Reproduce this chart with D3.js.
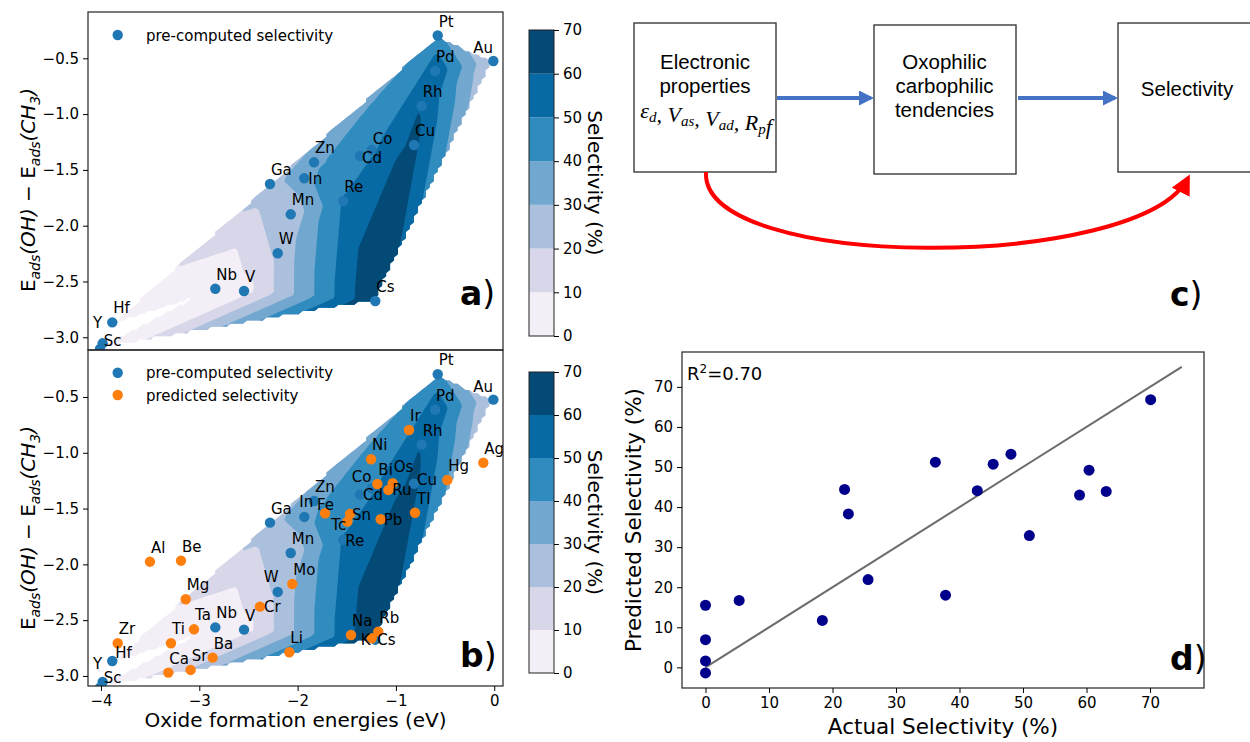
<!DOCTYPE html>
<html>
<head>
<meta charset="utf-8">
<script src="https://cdn.jsdelivr.net/npm/d3@7"></script>
<style>
  body { margin: 0; background: #fff; }
  svg text { font-family: "DejaVu Sans", sans-serif; fill: #000; }
</style>
</head>
<body>
<svg id="fig" width="1250" height="742"></svg>
<script>
// pre-computed metals (blue)
const refMetals = ['Pt', 'Au', 'Pd', 'Rh', 'Cu', 'Co', 'Cd', 'Zn', 'Ga', 'In', 'Re', 'Mn', 'W', 'Nb', 'V', 'Cs', 'Hf', 'Y', 'Sc']
const refOxideE = [-0.575, -0.009, -0.602, -0.738, -0.816, -1.246, -1.365, -1.833, -2.281, -1.932, -1.535, -2.070, -2.202, -2.837, -2.545, -1.210, -3.885, -4.010, -3.983]
const refAdsDiff = [-0.296, -0.524, -0.614, -0.927, -1.277, -1.322, -1.375, -1.432, -1.626, -1.575, -1.779, -1.898, -2.247, -2.565, -2.585, -2.675, -2.866, -3.105, -3.054]
// selectivity at those metals
const refSelectivity = [42.8, 18.4, 58.9, 60.4, 63.1, 48.1, 45.3, 37.8, 25.6, 36.2, 51.0, 22.5, 21.9, 0, 5.3, 70.1, 0, 0, 0]

// predicted metals (orange)
const predMetals = ['Ir', 'Ni', 'Ag', 'Hg', 'Bi', 'Os', 'Ru', 'Tl', 'Fe', 'Sn', 'Tc', 'Pb', 'Al', 'Be', 'Mg', 'Mo', 'Cr', 'Ta', 'Ti', 'Zr', 'Ba', 'Sr', 'Ca', 'Li', 'Na', 'K', 'Rb']
const predOxideE = [-0.867, -1.253, -0.111, -0.477, -1.189, -1.033, -1.077, -0.806, -1.721, -1.467, -1.494, -1.155, -3.502, -3.186, -3.138, -2.054, -2.383, -3.054, -3.288, -3.830, -2.864, -3.088, -3.315, -2.084, -1.457, -1.246, -1.179]
const predAdsDiff = [-0.796, -1.058, -1.089, -1.244, -1.280, -1.273, -1.333, -1.537, -1.542, -1.548, -1.617, -1.596, -1.976, -1.967, -2.313, -2.176, -2.379, -2.582, -2.707, -2.707, -2.836, -2.946, -2.970, -2.788, -2.633, -2.662, -2.603]

// panel d: parity plot
const actualSel = [0, 0, 0, 0, 5.3, 18.4, 21.9, 22.5, 25.6, 36.2, 37.8, 42.8, 45.3, 48.1, 51.0, 58.9, 60.4, 63.1, 70.1]
const predictedSel = [15.5, 6.9, 1.6, -1.4, 16.7, 11.7, 44.4, 38.3, 21.9, 51.2, 18.0, 44.1, 50.7, 53.2, 32.9, 43.0, 49.2, 43.9, 66.8]
const parityLine = [0, 75]
const r2Text = '0.70'

const levels = [0, 10, 20, 30, 40, 50, 60, 70]
const xTicksAB = [-4, -3, -2, -1, 0]
const yTicksAB = [-3.0, -2.5, -2.0, -1.5, -1.0, -0.5]
const ticksD = [0, 10, 20, 30, 40, 50, 60, 70]

const BLUE = '#1f77b4'
const ORANGE = '#ff7f0e'
const bandColor = i => d3.interpolatePuBu((i + 0.5) / (levels.length - 1))

// NOTE: label offsets (px) from the marker, default [1, -9]
const offA = { Au: [-20, -8], Co: [1, -6], Cd: [2, 7], In: [4, 6], Y: [-7, -21], Sc: [1, 3] }
const offB = {
  Au: [-20, -8], Co: [-20, -7], Cd: [3, 5], In: [-5, -10], Y: [-7, -19], Sc: [1, 1],
  Cs: [2, 5], Hf: [3, -3], W: [-14, -10], Re: [2, 6], Cu: [3, 1],
  Os: [1, -11], Ru: [4, 5], Tl: [2, -9], Fe: [-8, -3], Sn: [2, 6], Tc: [-16, 8], Pb: [3, 6], Cr: [4, 5], K: [-11, 7],
}

const svg = d3.select('#fig')
const defs = svg.append('defs')

// NOTE: linear interpolation on the Delaunay mesh of the blue metals, sampled on a grid
const pts = refOxideE.map((v, i) => [v, refAdsDiff[i]])
const tris = d3.Delaunay.from(pts).triangles
const NX = 100
const NY = 100
const [gx0, gx1] = d3.extent(refOxideE)
const [gy0, gy1] = d3.extent(refAdsDiff)
const gdx = (gx1 - gx0) / (NX - 1)
const gdy = (gy1 - gy0) / (NY - 1)
const grid = new Array(NX * NY).fill(-1e6)
for (let j = 0; j < NY; j++) {
  for (let i = 0; i < NX; i++) {
    const px = gx0 + i * gdx
    const py = gy0 + j * gdy
    for (let t = 0; t < tris.length; t += 3) {
      const [ax, ay] = pts[tris[t]]
      const [bx, by] = pts[tris[t + 1]]
      const [cx, cy] = pts[tris[t + 2]]
      const det = (by - cy) * (ax - cx) + (cx - bx) * (ay - cy)
      const l1 = ((by - cy) * (px - cx) + (cx - bx) * (py - cy)) / det
      const l2 = ((cy - ay) * (px - cx) + (ax - cx) * (py - cy)) / det
      const l3 = 1 - l1 - l2
      if (l1 >= -1e-9 && l2 >= -1e-9 && l3 >= -1e-9) {
        grid[i + j * NX] = l1 * refSelectivity[tris[t]] + l2 * refSelectivity[tris[t + 1]] + l3 * refSelectivity[tris[t + 2]]
        break
      }
    }
  }
}
const thresholds = levels.slice(0, -1).map(v => (v === 0 ? 1e-6 : v))
const bands = d3.contours().size([NX, NY]).thresholds(thresholds)(grid)

function drawMapPanel({ id, left, right, top, bottom, yDomain, cbTop, cbBottom, withPred, offsets, tag, showXTicks, yLabelY, legendY }) {
  const x = d3.scaleLinear().domain([-4.132, 0.089]).range([left, right])
  const y = d3.scaleLinear().domain(yDomain).range([bottom, top])
  const g = svg.append('g').attr('class', `panel-${id}`)

  defs.append('clipPath').attr('id', `clip-${id}`)
    .append('rect').attr('x', left).attr('y', top).attr('width', right - left).attr('height', bottom - top)

  const plot = g.append('g').attr('clip-path', `url(#clip-${id})`)

  // NOTE: contour bands
  const proj = d3.geoTransform({
    point(cx, cy) { this.stream.point(x(gx0 + (cx - 0.5) * gdx), y(gy0 + (cy - 0.5) * gdy)) },
  })
  const path = d3.geoPath(proj)
  plot.selectAll('path.band').data(bands).join('path')
    .attr('class', 'band')
    .attr('d', path)
    .attr('fill', (d, i) => bandColor(i))

  // NOTE: markers
  const marks = refMetals.map((m, i) => ({ m, x: refOxideE[i], y: refAdsDiff[i], c: BLUE }))
  if (withPred) predMetals.forEach((m, i) => marks.push({ m, x: predOxideE[i], y: predAdsDiff[i], c: ORANGE }))
  plot.selectAll('circle.pt').data(marks).join('circle')
    .attr('class', 'pt')
    .attr('cx', d => x(d.x)).attr('cy', d => y(d.y)).attr('r', 5.2)
    .attr('fill', d => d.c)

  plot.selectAll('text.lbl').data(marks).join('text')
    .attr('class', 'lbl')
    .attr('x', d => x(d.x) + (offsets[d.m] || [1, -9])[0])
    .attr('y', d => y(d.y) + (offsets[d.m] || [1, -9])[1])
    .attr('font-size', 15)
    .text(d => d.m)

  // NOTE: frame + axes
  g.append('rect').attr('x', left).attr('y', top).attr('width', right - left).attr('height', bottom - top)
    .attr('fill', 'none').attr('stroke', '#222').attr('stroke-width', 1.2)

  const yAxis = g.append('g').attr('transform', `translate(${left},0)`)
    .call(d3.axisLeft(y).tickValues(yTicksAB).tickFormat(d3.format('.1f')).tickSize(5).tickPadding(4))
  yAxis.select('.domain').remove()
  yAxis.selectAll('text').attr('font-size', 15).attr('font-family', 'DejaVu Sans').text(d => d3.format('.1f')(d).replace('-', '−'))

  if (showXTicks) {
    const xAxis = g.append('g').attr('transform', `translate(0,${bottom})`)
      .call(d3.axisBottom(x).tickValues(xTicksAB).tickSize(5).tickPadding(4))
    xAxis.select('.domain').remove()
    xAxis.selectAll('text').attr('font-size', 15).attr('font-family', 'DejaVu Sans').text(d => String(d).replace('-', '−'))
  }

  // NOTE: y label E_ads(OH) − E_ads(CH3)
  const yl = g.append('text').attr('transform', `translate(35,${yLabelY}) rotate(-90)`)
    .attr('text-anchor', 'middle').attr('font-size', 20)
  yl.append('tspan').text('E')
  yl.append('tspan').attr('dy', 5).attr('font-size', 14).attr('font-style', 'italic').text('ads')
  yl.append('tspan').attr('dy', -5).attr('font-style', 'italic').text('(OH)')
  yl.append('tspan').text(' − E')
  yl.append('tspan').attr('dy', 5).attr('font-size', 14).attr('font-style', 'italic').text('ads')
  yl.append('tspan').attr('dy', -5).attr('font-style', 'italic').text('(CH')
  yl.append('tspan').attr('dy', 5).attr('font-size', 14).attr('font-style', 'italic').text('3')
  yl.append('tspan').attr('dy', -5).attr('font-style', 'italic').text(')')

  // NOTE: legend
  const leg = [{ c: BLUE, t: 'pre-computed selectivity' }]
  if (withPred) leg.push({ c: ORANGE, t: 'predicted selectivity' })
  leg.forEach((d, i) => {
    g.append('circle').attr('cx', 117.7).attr('cy', legendY + i * 22.3).attr('r', 5.2).attr('fill', d.c)
    g.append('text').attr('x', 146).attr('y', legendY + i * 22.3 + 5.5).attr('font-size', 15).text(d.t)
  })

  // NOTE: panel tag
  const tg = g.append('text').attr('x', right - 43).attr('y', bottom - (id === 'a' ? 45 : 19)).attr('font-size', 33)
  tg.append('tspan').attr('font-weight', 'bold').text(tag)
  tg.append('tspan').text(')')

  // NOTE: colorbar
  const cbL = 529
  const cbW = 25
  const cy = d3.scaleLinear().domain([levels[0], levels[levels.length - 1]]).range([cbBottom, cbTop])
  g.selectAll('rect.cb').data(levels.slice(0, -1)).join('rect')
    .attr('class', 'cb')
    .attr('x', cbL).attr('width', cbW)
    .attr('y', (d, i) => cy(levels[i + 1])).attr('height', (d, i) => cy(d) - cy(levels[i + 1]))
    .attr('fill', (d, i) => bandColor(i))
  g.append('rect').attr('x', cbL).attr('y', cbTop).attr('width', cbW).attr('height', cbBottom - cbTop)
    .attr('fill', 'none').attr('stroke', '#222').attr('stroke-width', 1)
  const cbAxis = g.append('g').attr('transform', `translate(${cbL + cbW},0)`)
    .call(d3.axisRight(cy).tickValues(levels).tickSize(5).tickPadding(4))
  cbAxis.select('.domain').remove()
  cbAxis.selectAll('text').attr('font-size', 15).attr('font-family', 'DejaVu Sans')
  g.append('text').attr('transform', `translate(588,${(cbTop + cbBottom) / 2}) rotate(90)`)
    .attr('text-anchor', 'middle').attr('font-size', 20).text('Selectivity (%)')
}

drawMapPanel({
  id: 'a', left: 88, right: 503, top: 12, bottom: 350, yDomain: [-3.114, -0.085],
  cbTop: 30, cbBottom: 336, withPred: false, offsets: offA, tag: 'a', showXTicks: false, yLabelY: 190, legendY: 35,
})
drawMapPanel({
  id: 'b', left: 88, right: 503, top: 350, bottom: 686, yDomain: [-3.09, -0.079],
  cbTop: 372, cbBottom: 673, withPred: true, offsets: offB, tag: 'b', showXTicks: true, yLabelY: 528, legendY: 372.7,
})
svg.append('text').attr('x', 295.5).attr('y', 727).attr('text-anchor', 'middle').attr('font-size', 20)
  .text('Oxide formation energies (eV)')

// ---- panel c: flow diagram
const gc = svg.append('g').attr('class', 'panel-c').style('font-family', '"Liberation Sans", Arial, sans-serif')
const mkMarker = (mid, color, size) => defs.append('marker').attr('id', mid)
  .attr('viewBox', '0 0 10 10').attr('refX', 8).attr('refY', 5)
  .attr('markerWidth', size).attr('markerHeight', size).attr('markerUnits', 'userSpaceOnUse').attr('orient', 'auto')
  .append('path').attr('d', 'M0,0L10,5L0,10z').attr('fill', color)
mkMarker('arrBlue', '#4472c4', 15)
mkMarker('arrRed', '#ff0000', 20)

const boxes = [
  { x: 634, y: 23, w: 142, h: 149 },
  { x: 874, y: 25, w: 142, h: 149 },
  { x: 1118, y: 23, w: 145, h: 149 },
]
gc.selectAll('rect').data(boxes).join('rect')
  .attr('x', d => d.x).attr('y', d => d.y).attr('width', d => d.w).attr('height', d => d.h)
  .attr('fill', '#fff').attr('stroke', '#3a3a3a').attr('stroke-width', 1.4)

gc.append('line').attr('x1', 777).attr('x2', 871).attr('y1', 98).attr('y2', 98)
  .attr('stroke', '#4472c4').attr('stroke-width', 4).attr('marker-end', 'url(#arrBlue)')
gc.append('line').attr('x1', 1018).attr('x2', 1115).attr('y1', 98).attr('y2', 98)
  .attr('stroke', '#4472c4').attr('stroke-width', 4).attr('marker-end', 'url(#arrBlue)')
gc.append('path').attr('d', 'M706,172 C700,272 1140,272 1188,178')
  .attr('fill', 'none').attr('stroke', '#ff0000').attr('stroke-width', 4).attr('marker-end', 'url(#arrRed)')

const ctext = (t, cx, by) => gc.append('text').attr('x', cx).attr('y', by).attr('text-anchor', 'middle')
  .attr('font-size', 20.5).style('font-family', '"Liberation Sans", Arial, sans-serif').text(t)
ctext('Electronic', 705, 69)
ctext('properties', 705, 93)
ctext('Oxophilic', 944.5, 69)
ctext('carbophilic', 944.5, 93)
ctext('tendencies', 944.5, 117)
ctext('Selectivity', 1187, 96)

const mt = gc.append('text').attr('x', 706).attr('y', 118).attr('text-anchor', 'middle')
  .attr('font-size', 22).attr('font-style', 'italic').style('font-family', '"Liberation Serif", "DejaVu Serif", serif')
const mathParts = [['ε', 'd'], [', V', 'as'], [', V', 'ad'], [', R', 'p'], ['f', '']]
mathParts.forEach(([base, sub]) => {
  mt.append('tspan').text(base)
  if (sub) {
    mt.append('tspan').attr('dy', 4).attr('font-size', 15).text(sub)
    mt.append('tspan').attr('dy', -4).text('')
  }
})
const tc = gc.append('text').attr('x', 1170).attr('y', 306).attr('font-size', 33)
  .style('font-family', '"DejaVu Sans", sans-serif')
tc.append('tspan').attr('font-weight', 'bold').text('c')
tc.append('tspan').text(')')

// ---- panel d: parity plot
const dL = 682
const dR = 1204
const dT = 352
const dB = 688
const xd = d3.scaleLinear().domain([-3.7, 78.5]).range([dL, dR])
const yd = d3.scaleLinear().domain([-5.15, 78.7]).range([dB, dT])
const gd = svg.append('g').attr('class', 'panel-d')

gd.append('line')
  .attr('x1', xd(parityLine[0])).attr('y1', yd(parityLine[0]))
  .attr('x2', xd(parityLine[1])).attr('y2', yd(parityLine[1]))
  .attr('stroke', '#6b6b6b').attr('stroke-width', 2)

gd.selectAll('circle').data(actualSel).join('circle')
  .attr('cx', d => xd(d)).attr('cy', (d, i) => yd(predictedSel[i])).attr('r', 5.5)
  .attr('fill', '#00008b')

gd.append('rect').attr('x', dL).attr('y', dT).attr('width', dR - dL).attr('height', dB - dT)
  .attr('fill', 'none').attr('stroke', '#222').attr('stroke-width', 1.2)

const xdAxis = gd.append('g').attr('transform', `translate(0,${dB})`)
  .call(d3.axisBottom(xd).tickValues(ticksD).tickSize(5).tickPadding(4))
xdAxis.select('.domain').remove()
xdAxis.selectAll('text').attr('font-size', 15).attr('font-family', 'DejaVu Sans')
const ydAxis = gd.append('g').attr('transform', `translate(${dL},0)`)
  .call(d3.axisLeft(yd).tickValues(ticksD).tickSize(5).tickPadding(4))
ydAxis.select('.domain').remove()
ydAxis.selectAll('text').attr('font-size', 15).attr('font-family', 'DejaVu Sans')

gd.append('text').attr('x', (dL + dR) / 2).attr('y', 734).attr('text-anchor', 'middle').attr('font-size', 21.5)
  .text('Actual Selectivity (%)')
gd.append('text').attr('transform', `translate(641,${(dT + dB) / 2}) rotate(-90)`).attr('text-anchor', 'middle')
  .attr('font-size', 21.5).text('Predicted Selectivity (%)')

const r2 = gd.append('text').attr('x', 687).attr('y', 380).attr('font-size', 18)
r2.append('tspan').text('R')
r2.append('tspan').attr('dy', -7).attr('font-size', 12).text('2')
r2.append('tspan').attr('dy', 7).text(`=${r2Text}`)

const td = gd.append('text').attr('x', 1170).attr('y', 670).attr('font-size', 33)
td.append('tspan').attr('font-weight', 'bold').text('d')
td.append('tspan').text(')')
</script>
</body>
</html>
